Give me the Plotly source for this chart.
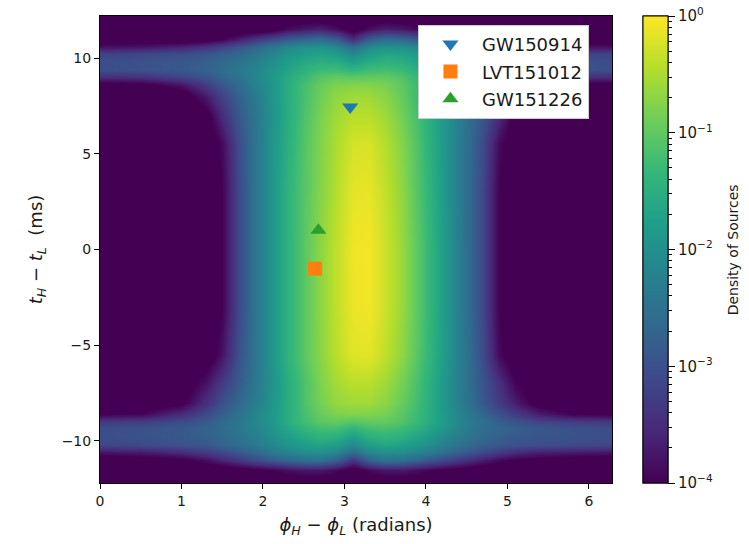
import math
import plotly.graph_objects as go

# ---- grid of the density map (log10 of density of sources) ----
phase_diff = [0, 0.5, 1.0, 1.3, 1.5, 1.7, 1.9, 2.1, 2.3, 2.5, 2.7, 2.9, 3.1,
              3.3, 3.5, 3.7, 3.9, 4.1, 4.3, 4.5, 4.7, 4.9, 5.1, 5.4, 5.8, 6.28]
time_diff = [-12.2, -11.5, -11.0, -10.6, -10.2, -9.8, -9.4, -9.0, -8.6, -8.0,
             -7.0, -5.5, -3.0, 0.0, 3.0, 5.5, 7.0, 8.0, 8.6, 9.0, 9.4, 9.8,
             10.2, 10.6, 11.0, 11.5, 12.2]

# one row per time_diff value (bottom to top), one column per phase_diff value
log_density = [
    # -12.2
    [-4.3]*26,
    # -11.5
    [-4.3, -4.3, -4.3, -4.3, -4.3, -4.2, -4.1, -4.0, -3.85, -3.75, -3.75, -3.9, -4.2,
     -3.9, -3.75, -3.75, -3.85, -4.0, -4.1, -4.2, -4.3, -4.3, -4.3, -4.3, -4.3, -4.3],
    # -11.0
    [-4.3, -4.25, -4.1, -3.85, -3.6, -3.35, -3.1, -2.9, -2.7, -2.55, -2.5, -2.75, -3.4,
     -2.75, -2.5, -2.55, -2.75, -3.0, -3.2, -3.45, -3.7, -3.9, -4.05, -4.15, -4.25, -4.3],
    # -10.6
    [-3.75, -3.7, -3.5, -3.3, -3.1, -2.9, -2.65, -2.4, -2.2, -2.05, -2.0, -2.15, -2.55,
     -2.15, -2.0, -2.05, -2.2, -2.4, -2.65, -2.9, -3.1, -3.3, -3.5, -3.65, -3.7, -3.75],
    # -10.2
    [-3.15, -3.1, -3.0, -2.9, -2.75, -2.6, -2.4, -2.15, -1.95, -1.8, -1.7, -1.8, -2.1,
     -1.8, -1.65, -1.75, -1.9, -2.1, -2.35, -2.6, -2.8, -2.9, -3.0, -3.05, -3.1, -3.15],
    # -9.8
    [-3.05, -3.0, -2.9, -2.8, -2.65, -2.5, -2.3, -2.05, -1.8, -1.6, -1.45, -1.5, -1.8,
     -1.5, -1.4, -1.5, -1.7, -1.95, -2.2, -2.45, -2.65, -2.8, -2.9, -2.95, -3.0, -3.05],
    # -9.4
    [-3.05, -3.0, -2.9, -2.75, -2.6, -2.4, -2.2, -1.95, -1.65, -1.4, -1.25, -1.25, -1.45,
     -1.25, -1.2, -1.3, -1.5, -1.75, -2.05, -2.35, -2.6, -2.7, -2.8, -2.9, -3.0, -3.05],
    # -9.0
    [-3.3, -3.25, -3.05, -2.85, -2.65, -2.4, -2.15, -1.9, -1.55, -1.25, -1.05, -1.0, -1.1,
     -1.0, -1.0, -1.1, -1.35, -1.65, -1.95, -2.3, -2.55, -2.8, -2.95, -3.15, -3.25, -3.3],
    # -8.6
    [-4.0, -3.95, -3.5, -3.1, -2.8, -2.5, -2.2, -1.9, -1.55, -1.2, -0.95, -0.8, -0.78,
     -0.78, -0.85, -1.05, -1.3, -1.65, -2.0, -2.35, -2.7, -3.0, -3.3, -3.7, -4.0, -4.05],
    # -8.0
    [-4.3, -4.3, -4.1, -3.45, -3.0, -2.65, -2.3, -1.95, -1.55, -1.15, -0.85, -0.65, -0.58,
     -0.58, -0.7, -0.95, -1.25, -1.65, -2.05, -2.45, -2.9, -3.3, -3.7, -4.2, -4.3, -4.3],
    # -7.0
    [-4.3, -4.3, -4.3, -3.8, -3.3, -2.85, -2.4, -2.0, -1.55, -1.15, -0.8, -0.55, -0.42,
     -0.42, -0.58, -0.85, -1.2, -1.6, -2.05, -2.5, -2.95, -3.45, -4.0, -4.3, -4.3, -4.3],
    # -5.5
    [-4.3, -4.3, -4.3, -4.3, -3.8, -3.0, -2.45, -1.95, -1.45, -1.05, -0.72, -0.42, -0.18,
     -0.16, -0.38, -0.68, -1.08, -1.52, -2.0, -2.5, -3.1, -3.9, -4.3, -4.3, -4.3, -4.3],
    # -3.0
    [-4.3, -4.3, -4.3, -4.3, -4.0, -3.1, -2.45, -1.95, -1.45, -1.05, -0.7, -0.38, -0.1,
     -0.07, -0.3, -0.62, -1.05, -1.5, -2.0, -2.55, -3.15, -4.0, -4.3, -4.3, -4.3, -4.3],
    # 0.0
    [-4.3, -4.3, -4.3, -4.3, -4.0, -3.1, -2.45, -1.95, -1.45, -1.05, -0.7, -0.38, -0.08,
     -0.06, -0.3, -0.62, -1.05, -1.5, -2.0, -2.55, -3.15, -4.0, -4.3, -4.3, -4.3, -4.3],
    # 3.0
    [-4.3, -4.3, -4.3, -4.3, -4.0, -3.1, -2.45, -1.95, -1.45, -1.08, -0.75, -0.45, -0.15,
     -0.13, -0.36, -0.68, -1.1, -1.55, -2.05, -2.55, -3.15, -4.0, -4.3, -4.3, -4.3, -4.3],
    # 5.5
    [-4.3, -4.3, -4.3, -4.3, -3.9, -3.05, -2.45, -1.95, -1.5, -1.1, -0.78, -0.5, -0.25,
     -0.23, -0.45, -0.75, -1.15, -1.6, -2.05, -2.55, -3.1, -3.9, -4.3, -4.3, -4.3, -4.3],
    # 7.0
    [-4.3, -4.3, -4.3, -4.2, -3.5, -2.9, -2.45, -2.0, -1.55, -1.15, -0.82, -0.57, -0.43,
     -0.43, -0.58, -0.87, -1.22, -1.62, -2.05, -2.5, -2.95, -3.5, -4.2, -4.3, -4.3, -4.3],
    # 8.0
    [-4.3, -4.3, -4.3, -3.7, -3.2, -2.75, -2.35, -1.95, -1.55, -1.2, -0.9, -0.68, -0.58,
     -0.58, -0.72, -0.97, -1.3, -1.65, -2.05, -2.5, -2.95, -3.4, -3.9, -4.3, -4.3, -4.3],
    # 8.6
    [-4.2, -4.15, -3.8, -3.3, -2.95, -2.6, -2.25, -1.95, -1.55, -1.2, -0.95, -0.78, -0.75,
     -0.75, -0.82, -1.02, -1.3, -1.65, -2.0, -2.4, -2.8, -3.2, -3.6, -4.0, -4.2, -4.2],
    # 9.0
    [-3.5, -3.45, -3.2, -2.95, -2.7, -2.45, -2.2, -1.9, -1.6, -1.3, -1.08, -0.98, -1.02,
     -0.98, -0.98, -1.1, -1.35, -1.65, -1.95, -2.3, -2.6, -2.9, -3.1, -3.35, -3.45, -3.5],
    # 9.4
    [-3.05, -3.0, -2.9, -2.75, -2.6, -2.4, -2.2, -1.95, -1.7, -1.45, -1.28, -1.25, -1.38,
     -1.25, -1.2, -1.3, -1.5, -1.75, -2.05, -2.35, -2.6, -2.75, -2.85, -2.95, -3.0, -3.05],
    # 9.8
    [-3.05, -3.0, -2.9, -2.8, -2.65, -2.5, -2.3, -2.05, -1.8, -1.6, -1.48, -1.52, -1.75,
     -1.52, -1.42, -1.5, -1.7, -1.95, -2.2, -2.45, -2.7, -2.85, -2.9, -2.95, -3.0, -3.05],
    # 10.2
    [-3.2, -3.15, -3.05, -2.95, -2.8, -2.65, -2.45, -2.2, -1.95, -1.8, -1.7, -1.8, -2.1,
     -1.8, -1.65, -1.7, -1.85, -2.1, -2.35, -2.6, -2.85, -2.95, -3.05, -3.1, -3.15, -3.2],
    # 10.6
    [-3.8, -3.75, -3.6, -3.4, -3.2, -2.95, -2.7, -2.4, -2.15, -2.0, -1.95, -2.1, -2.55,
     -2.1, -1.95, -2.0, -2.15, -2.4, -2.65, -2.95, -3.2, -3.4, -3.55, -3.7, -3.8, -3.8],
    # 11.0
    [-4.3, -4.3, -4.3, -4.2, -4.0, -3.7, -3.4, -3.15, -2.9, -2.7, -2.6, -2.85, -3.5,
     -2.85, -2.6, -2.7, -2.9, -3.15, -3.4, -3.7, -3.95, -4.1, -4.2, -4.3, -4.3, -4.3],
    # 11.5
    [-4.3, -4.3, -4.3, -4.3, -4.3, -4.3, -4.3, -4.2, -3.9, -3.75, -3.65, -3.85, -4.2,
     -3.85, -3.65, -3.75, -3.9, -4.1, -4.3, -4.3, -4.3, -4.3, -4.3, -4.3, -4.3, -4.3],
    # 12.2
    [-4.3]*26,
]

# ---- detected events ----
event_names = ["GW150914", "LVT151012", "GW151226"]
event_phase = [3.07, 2.64, 2.68]
event_time = [7.45, -1.0, 1.0]
event_symbols = ["triangle-down", "square", "triangle-up"]
event_colors = ["#1f77b4", "#ff7f0e", "#2ca02c"]

cbar_tickvals = [-4, -3, -2, -1, 0]
cbar_ticktext = ["10<sup>−4</sup>", "10<sup>−3</sup>", "10<sup>−2</sup>",
                 "10<sup>−1</sup>", "10<sup>0</sup>"]
minor_vals = [d + math.log10(k) for d in range(-4, 0) for k in range(2, 10)]

FONT = "DejaVu Sans"
TXT = "#1a1a1a"

cbar_common = dict(
    x=1.0605, xanchor="left", xref="paper", xpad=0, y=0.5, yanchor="middle",
    ypad=0, len=1.0, lenmode="fraction", thickness=25,
    outlinewidth=1, outlinecolor="black",
)

fig = go.Figure()
fig.add_trace(go.Heatmap(
    x=phase_diff, y=time_diff, z=log_density,
    zmin=-4, zmax=0, colorscale="Viridis", zsmooth="best",
    showscale=True, hoverinfo="skip", showlegend=False,
    colorbar=dict(
        **cbar_common,
        tickmode="array", tickvals=minor_vals, ticktext=[""] * len(minor_vals),
        ticks="outside", ticklen=4, tickwidth=1, tickcolor="black",
        showticklabels=False,
    ),
))
# overlaid colorbar carrying the major ticks and labels
fig.add_trace(go.Scatter(
    x=[None], y=[None], mode="markers", showlegend=False, hoverinfo="skip",
    marker=dict(
        color=[0], cmin=-4, cmax=0, colorscale="Viridis", showscale=True,
        colorbar=dict(
            **cbar_common,
            tickmode="array", tickvals=cbar_tickvals, ticktext=cbar_ticktext,
            ticks="outside", ticklen=7, tickwidth=1, tickcolor="black",
            tickfont=dict(family=FONT, size=15, color=TXT),
        ),
    ),
))

for name, px, py, sym, col in zip(event_names, event_phase, event_time,
                                   event_symbols, event_colors):
    fig.add_trace(go.Scatter(
        x=[px], y=[py], mode="markers", name=name, legendgroup=name,
        marker=dict(symbol=sym, color=col, size=14, line=dict(width=0)),
    ))

# colorbar title
fig.add_annotation(
    text="Density of Sources", xref="paper", yref="paper",
    x=1.236, y=0.5, xanchor="center", yanchor="middle", textangle=-90,
    showarrow=False, font=dict(family=FONT, size=14, color=TXT),
)

fig.update_layout(
    width=749, height=544,
    margin=dict(l=100, r=137, t=16, b=61, autoexpand=False),
    paper_bgcolor="white", plot_bgcolor="white",
    font=dict(family=FONT, size=14, color=TXT),
    legend=dict(
        x=0.621, y=0.981, xanchor="left", yanchor="top",
        bgcolor="white", bordercolor="#cccccc", borderwidth=1,
        font=dict(family=FONT, size=18, color=TXT),
        itemwidth=53, tracegroupgap=1, entrywidth=120,
    ),
    xaxis=dict(
        range=[0, 6.2832], tickvals=[0, 1, 2, 3, 4, 5, 6],
        ticks="outside", ticklen=5, tickcolor="black",
        showline=True, linecolor="black", linewidth=1, mirror=True,
        showgrid=False, zeroline=False,
        tickfont=dict(family=FONT, size=14, color=TXT),
        title=dict(text="<i>ϕ</i><sub><i>H</i></sub> − <i>ϕ</i><sub><i>L</i></sub> (radians)",
                   font=dict(family=FONT, size=18, color=TXT), standoff=10),
    ),
    yaxis=dict(
        range=[-12.2, 12.2], tickvals=[-10, -5, 0, 5, 10],
        ticks="outside", ticklen=5, tickcolor="black",
        showline=True, linecolor="black", linewidth=1, mirror=True,
        showgrid=False, zeroline=False,
        tickfont=dict(family=FONT, size=14, color=TXT),
        title=dict(text="<i>t</i><sub><i>H</i></sub> − <i>t</i><sub><i>L</i></sub>  (ms)",
                   font=dict(family=FONT, size=18, color=TXT), standoff=14),
    ),
)

fig.write_html("out.html")
